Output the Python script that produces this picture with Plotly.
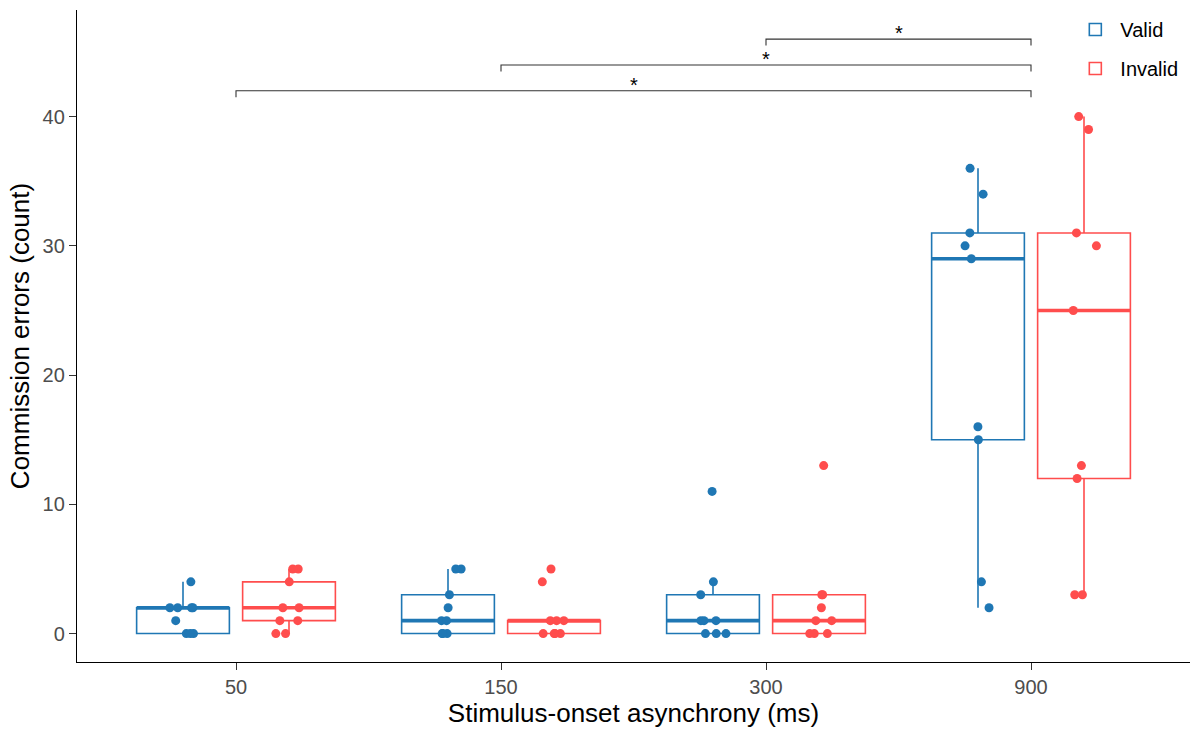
import numpy as np
import plotly.graph_objects as go

# ---------------- data ----------------
soa_labels = ["50", "150", "300", "900"]

valid_50 = [0, 0, 0, 1, 2, 2, 2, 2, 4]
valid_150 = [0, 0, 0, 1, 1, 2, 3, 5, 5]
valid_300 = [0, 0, 0, 1, 1, 1, 3, 4, 11]
valid_900 = [2, 4, 15, 16, 29, 30, 31, 34, 36]

invalid_50 = [0, 0, 1, 1, 2, 2, 4, 5, 5]
invalid_150 = [0, 0, 0, 0, 1, 1, 1, 4, 5]
invalid_300 = [0, 0, 0, 1, 1, 2, 3, 3, 13]
invalid_900 = [3, 3, 12, 13, 25, 30, 31, 39, 40]

sig_from = ["50", "150", "300"]
sig_to = ["900", "900", "900"]
sig_heights = [42, 44, 46]
sig_labels = ["*", "*", "*"]

y_ticks = [0, 10, 20, 30, 40]

# ---------------- styling ----------------
FONT = "Liberation Sans, Arial, Helvetica, sans-serif"
BLUE = "#1F77B4"
RED = "#FF4D4D"
DODGE = 0.2
BOX_W = 0.35
JITTER = 0.05
TIP = 0.5

series = [
    ("Valid", BLUE, -DODGE, [valid_50, valid_150, valid_300, valid_900]),
    ("Invalid", RED, DODGE, [invalid_50, invalid_150, invalid_300, invalid_900]),
]


def box_stats(vals):
    v = np.asarray(vals, dtype=float)
    q1, med, q3 = np.percentile(v, [25, 50, 75])
    iqr = q3 - q1
    lo = v[v >= q1 - 1.5 * iqr].min()
    hi = v[v <= q3 + 1.5 * iqr].max()
    return q1, med, q3, min(lo, q1), max(hi, q3)


fig = go.Figure()
rng = np.random.default_rng(7)

box_traces, median_traces, point_traces = [], [], []
for name, color, off, groups in series:
    xs, q1s, meds, q3s, lfs, ufs = [], [], [], [], [], []
    mx, my = [], []
    px, py = [], []
    for i, vals in enumerate(groups):
        q1, med, q3, lf, uf = box_stats(vals)
        c = i + off
        xs.append(c)
        q1s.append(q1)
        meds.append(med)
        q3s.append(q3)
        lfs.append(lf)
        ufs.append(uf)
        mx += [c - BOX_W / 2, c + BOX_W / 2, None]
        my += [med, med, None]
        px += list(c + rng.uniform(-JITTER, JITTER, len(vals)))
        py += list(vals)
    box_traces.append(go.Box(
        x=xs, q1=q1s, median=meds, q3=q3s, lowerfence=lfs, upperfence=ufs,
        width=BOX_W, name=name, legendgroup=name, boxpoints=False,
        whiskerwidth=0, line=dict(color=color, width=1.6),
        fillcolor="rgba(255,255,255,0)", hoverinfo="skip",
    ))
    median_traces.append(go.Scatter(
        x=mx, y=my, mode="lines", line=dict(color=color, width=3.6),
        showlegend=False, legendgroup=name, hoverinfo="skip",
    ))
    point_traces.append(go.Scatter(
        x=px, y=py, mode="markers", marker=dict(color=color, size=9),
        showlegend=False, legendgroup=name, hoverinfo="skip",
    ))

for t in box_traces + median_traces + point_traces:
    fig.add_trace(t)

# significance brackets
pos = {lab: i for i, lab in enumerate(soa_labels)}
for a, b, h, lab in zip(sig_from, sig_to, sig_heights, sig_labels):
    x1, x2 = pos[a], pos[b]
    fig.add_trace(go.Scatter(
        x=[x1, x1, x2, x2], y=[h - TIP, h, h, h - TIP], mode="lines",
        line=dict(color="#333333", width=1.1), showlegend=False,
        hoverinfo="skip",
    ))
    fig.add_annotation(
        x=(x1 + x2) / 2, y=h, text=lab, showarrow=False,
        yanchor="middle", yshift=6,
        font=dict(family=FONT, size=20, color="black"),
    )

axis_common = dict(
    showline=True, linecolor="black", linewidth=1.3, mirror=False,
    ticks="outside", ticklen=7, tickwidth=1.3, tickcolor="#333333",
    tickfont=dict(family=FONT, size=20, color="#4D4D4D"),
    showgrid=False, zeroline=False,
)

fig.update_layout(
    width=1202, height=731,
    margin=dict(l=77, r=12, t=10, b=67),
    paper_bgcolor="white", plot_bgcolor="white",
    font=dict(family=FONT, color="black"),
    showlegend=True,
    legend=dict(
        x=0.994, y=1.0, xanchor="right", yanchor="top",
        bgcolor="rgba(255,255,255,0)",
        font=dict(family=FONT, size=20, color="black"),
        itemwidth=40, tracegroupgap=10,
    ),
    xaxis=dict(
        range=[-0.6, 3.6], tickmode="array",
        tickvals=list(range(len(soa_labels))), ticktext=soa_labels,
        title=dict(text="Stimulus-onset asynchrony (ms)",
                   font=dict(family=FONT, size=26, color="black"), standoff=5),
        **axis_common,
    ),
    yaxis=dict(
        range=[-2.2, 48.25], tickmode="array", tickvals=y_ticks,
        title=dict(text="Commission errors (count)",
                   font=dict(family=FONT, size=26, color="black"), standoff=5),
        **axis_common,
    ),
)

fig.write_html("out.html")
